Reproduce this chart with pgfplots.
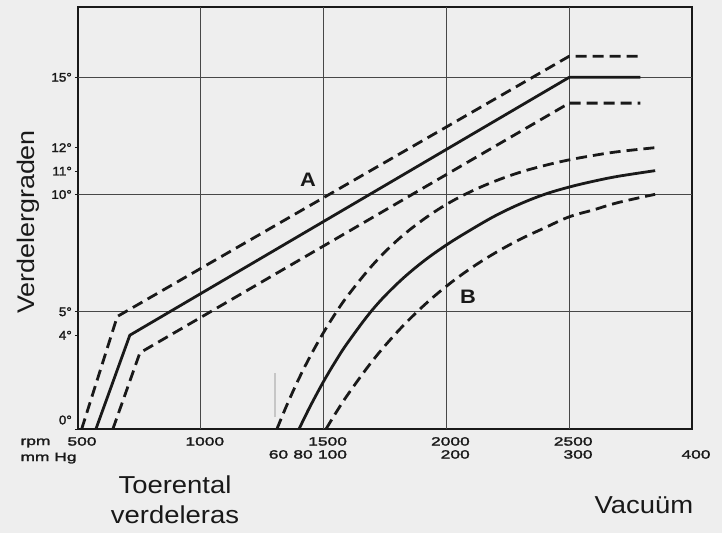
\documentclass[border=0pt]{standalone}
\usepackage{fontspec}
\setmainfont{Liberation Sans}
\usepackage{pgfplots}
\pgfplotsset{compat=1.18}
\newfontfamily\ytickfont[FakeBold=2,FakeStretch=1.08]{Liberation Sans}
\newfontfamily\xtickfont[FakeBold=2,FakeStretch=1.45]{Liberation Sans}
\newfontfamily\labfont[FakeStretch=1.12]{Liberation Sans}
\definecolor{ink}{gray}{0.1}
\definecolor{paper}{gray}{0.935}
\definecolor{gridc}{gray}{0.28}
\begin{document}
\begin{tikzpicture}
\fill[paper] (-78pt,-104pt) rectangle (644pt,429pt);
\begin{axis}[
  at={(0pt,0pt)}, anchor=south west,
  scale only axis, width=614pt, height=422pt,
  xmin=500, xmax=3000, ymin=0, ymax=18,
  axis line style={line width=1.8pt, ink},
  xtick={500,1000,1500,2000,2500},
  xticklabels={500,1000,1500,2000,2500},
  extra x ticks={1300,1400,1500,2000,2500,3000},
  extra x tick labels={60,80,\hphantom{0}100,\hphantom{0}200,\hphantom{0}300,400},
  extra x tick style={xticklabel style={yshift=-13pt}},
  xtick style={draw=none},
  xticklabel style={font=\xtickfont\fontsize{12}{12}\selectfont, text=ink, anchor=north, xshift=4pt, yshift=-4pt, inner sep=1pt},
  ytick={4,5,10,11,12,15},
  yticklabels={4°,5°,10°,11°,12°,15°},
  extra y ticks={0}, extra y tick labels={0°},
  extra y tick style={yticklabel style={yshift=9pt}},
  ytick style={ink, line width=0.8pt},
  tick align=outside, tickpos=left, major tick length=3pt,
  yticklabel style={font=\ytickfont\fontsize{12.5}{12}\selectfont, text=ink, anchor=east, inner sep=1pt, xshift=-2pt},
  clip=false,
]
% grid
\draw[gridc, line width=0.8pt] (axis cs:1000,0) -- (axis cs:1000,18);
\draw[gridc, line width=0.8pt] (axis cs:1500,0) -- (axis cs:1500,18);
\draw[gridc, line width=0.8pt] (axis cs:2000,0) -- (axis cs:2000,18);
\draw[gridc, line width=0.8pt] (axis cs:2500,0) -- (axis cs:2500,18);
\draw[gridc, line width=0.8pt] (axis cs:500,5) -- (axis cs:3000,5);
\draw[gridc, line width=0.8pt] (axis cs:500,10) -- (axis cs:3000,10);
\draw[gridc, line width=0.8pt] (axis cs:500,15) -- (axis cs:3000,15);
% scan mark
\addplot[gray!45, line width=2pt] coordinates {(1302,0.5) (1302,2.4)};
% curve A
\addplot[ink, line width=2.8pt, line join=round] coordinates {(573,0) (711,4.0) (2500,15.0) (2790,15.0)};
\addplot[ink, line width=2.8pt, dash pattern=on 11pt off 6pt, line join=round] coordinates {(515,0) (660,4.8) (2500,15.9) (2790,15.9)};
\addplot[ink, line width=2.8pt, dash pattern=on 11pt off 6pt, line join=round] coordinates {(642,0) (752,3.25) (2500,13.9) (2790,13.9)};
% curve B
\addplot[ink, line width=2.8pt, smooth, tension=0.6] coordinates {
(1400,0) (1425,0.54) (1450,1.06) (1500,2.03) (1550,2.91) (1600,3.71) (1700,5.10)
(1800,6.2) (1900,7.1) (2000,7.85) (2100,8.5) (2200,9.1) (2300,9.6) (2400,10.01)
(2500,10.32) (2600,10.57) (2700,10.78) (2850,11.02)};
\addplot[ink, line width=2.8pt, smooth, tension=0.6, dash pattern=on 11pt off 6pt] coordinates {
(1310,0) (1350,1.01) (1400,2.16) (1450,3.19) (1500,4.12) (1550,4.96) (1600,5.71) (1700,7.0)
(1800,8.05) (1900,8.89) (2000,9.58) (2100,10.13) (2200,10.58) (2300,10.95) (2400,11.24)
(2500,11.48) (2600,11.67) (2700,11.83) (2850,12.0)};
\addplot[ink, line width=2.8pt, smooth, tension=0.6, dash pattern=on 11pt off 6pt] coordinates {
(1510,0) (1550,0.69) (1600,1.49) (1700,2.92) (1800,4.14) (1900,5.19) (2000,6.09)
(2100,6.86) (2200,7.52) (2300,8.09) (2400,8.58) (2500,9.05) (2600,9.35) (2700,9.66) (2850,10.01)};
\end{axis}
% labels
\node[text=ink, font=\labfont\bfseries\fontsize{19.5}{20}\selectfont] at (230pt,249pt) {A};
\node[text=ink, font=\labfont\bfseries\fontsize{19.5}{20}\selectfont] at (390pt,132pt) {B};
\node[text=ink, anchor=base west, font=\xtickfont\fontsize{12}{13}\selectfont] at (-61pt,-16pt) {rpm};
\node[text=ink, anchor=base west, font=\xtickfont\fontsize{12}{13}\selectfont] at (-61pt,-32pt) {mm Hg};
\node[text=ink, anchor=base, rotate=90, font=\labfont\fontsize{24}{26}\selectfont] at (-43pt,207pt) {Verdelergraden};
\node[text=ink, anchor=base, font=\labfont\fontsize{24.5}{26}\selectfont] at (97pt,-64pt) {Toerental};
\node[text=ink, anchor=base, font=\labfont\fontsize{24.5}{26}\selectfont] at (97pt,-94pt) {verdeleras};
\node[text=ink, anchor=base, font=\labfont\fontsize{24.5}{26}\selectfont] at (566pt,-84pt) {Vacuüm};
\end{tikzpicture}
\end{document}
